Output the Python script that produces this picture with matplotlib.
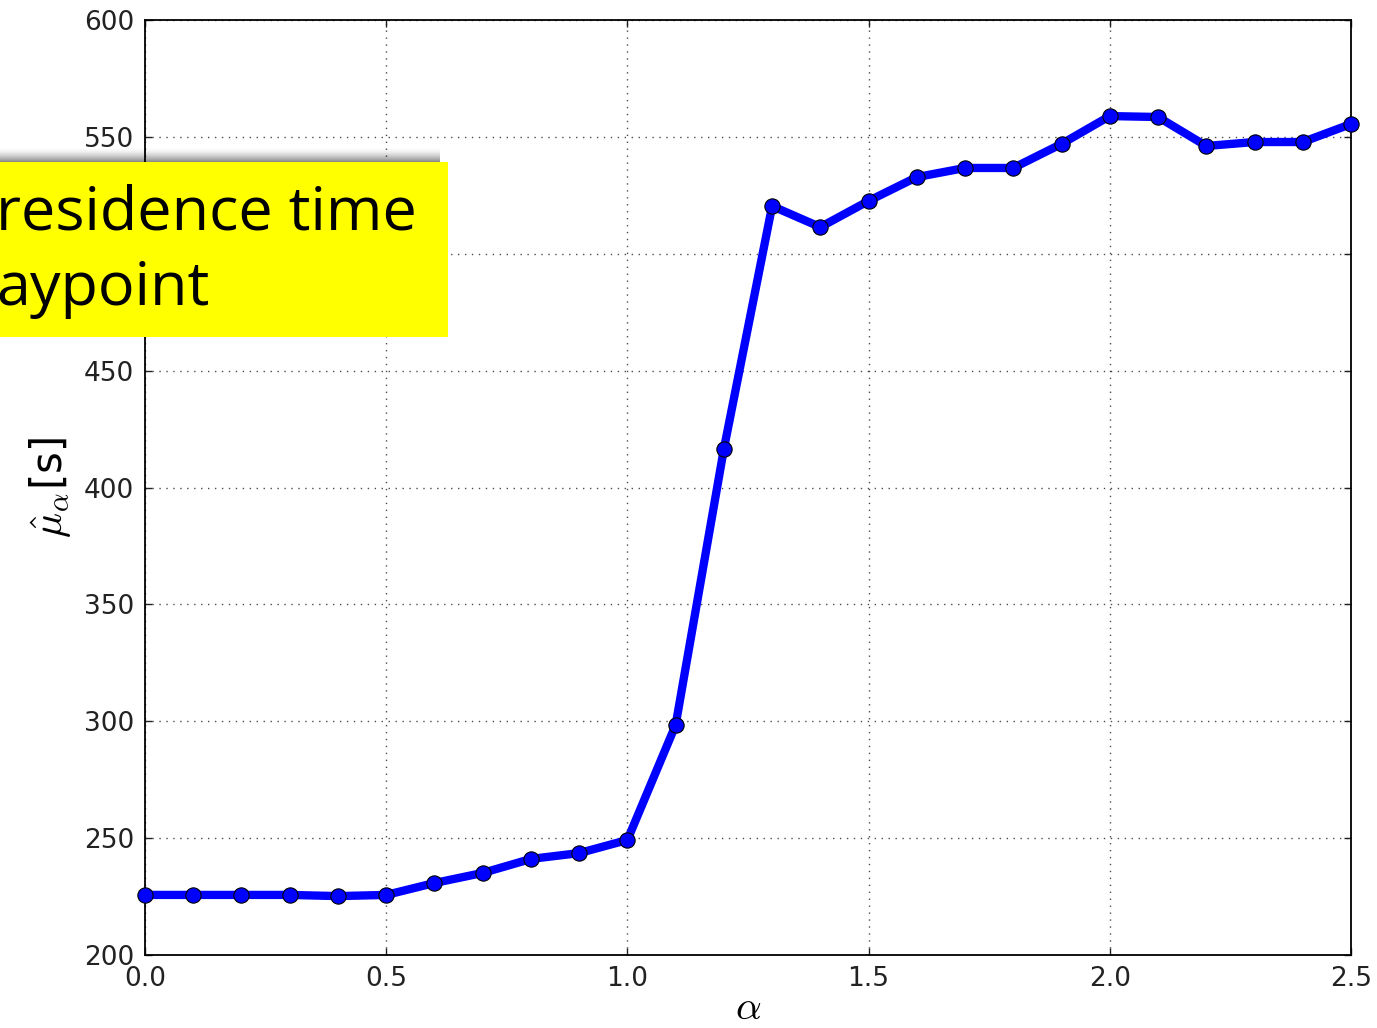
import matplotlib
matplotlib.use('Agg')
import matplotlib.pyplot as plt
from matplotlib.patches import Rectangle

# data
alpha = [0.0, 0.1, 0.2, 0.3, 0.4, 0.5, 0.6, 0.7, 0.8, 0.9, 1.0, 1.1, 1.2,
         1.3, 1.4, 1.5, 1.6, 1.7, 1.8, 1.9, 2.0, 2.1, 2.2, 2.3, 2.4, 2.5]
mu_hat = [225.7, 225.7, 225.7, 225.7, 225.2, 225.7, 230.8, 235.1, 241.1, 243.6,
          249.2, 298.4, 416.5, 520.4, 511.4, 522.6, 532.8, 536.7, 536.7, 547.0,
          558.9, 558.5, 546.1, 547.8, 547.8, 555.5]
x_ticks = [0.0, 0.5, 1.0, 1.5, 2.0, 2.5]
y_ticks = [200, 250, 300, 350, 400, 450, 500, 550, 600]
box_lines = ['residence time', 'aypoint']

plt.rcParams['mathtext.fontset'] = 'cm'

W, H = 1377, 1028
fig = plt.figure(figsize=(W / 100, H / 100), dpi=100)
ax = fig.add_axes([145 / W, 1 - 955 / H, (1351 - 145) / W, (955 - 20) / H])

# main curve
ax.plot(alpha, mu_hat, color='blue', lw=6, marker='o', markersize=11,
        markerfacecolor='blue', markeredgecolor='black', markeredgewidth=0.8,
        zorder=3, clip_on=False)

ax.set_xlim(0, 2.5)
ax.set_ylim(200, 600)
ax.set_xticks(x_ticks)
ax.set_yticks(y_ticks)
ax.set_xticklabels([f'{t:.1f}' for t in x_ticks])
ax.grid(True, color='black', linestyle=(0, (1, 4)), linewidth=1, alpha=0.7)
ax.tick_params(direction='in', length=5, width=1, labelsize=19,
               top=True, right=True, pad=8, colors='#222222')
for s in ax.spines.values():
    s.set_linewidth(1.3)

ax.set_xlabel(r'$\alpha$', fontsize=29, labelpad=-3)
ax.set_ylabel(r'$\hat{\mu}_\alpha$[s]', fontsize=30, labelpad=8)

# overlay: shadowed yellow box from the slide
for i in range(14):
    fig.patches.append(Rectangle((0, (H - 162 + i * 1.0) / H), 440 / W, 1.2 / H,
                                 transform=fig.transFigure, color='black',
                                 alpha=0.45 * ((14 - i) / 14) ** 1.6, lw=0, zorder=9))
fig.patches.append(Rectangle((0, 1 - 337 / H), 448 / W, (337 - 162) / H,
                             transform=fig.transFigure, facecolor='#ffff00',
                             edgecolor='none', zorder=10))
fig.text(-4 / W, 1 - 214 / H, box_lines[0], fontsize=44, family='Open Sans',
         va='center', ha='left', zorder=11)
fig.text(-4 / W, 1 - 289 / H, box_lines[1], fontsize=44, family='Open Sans',
         va='center', ha='left', zorder=11)

fig.savefig('out.png', dpi=100)
